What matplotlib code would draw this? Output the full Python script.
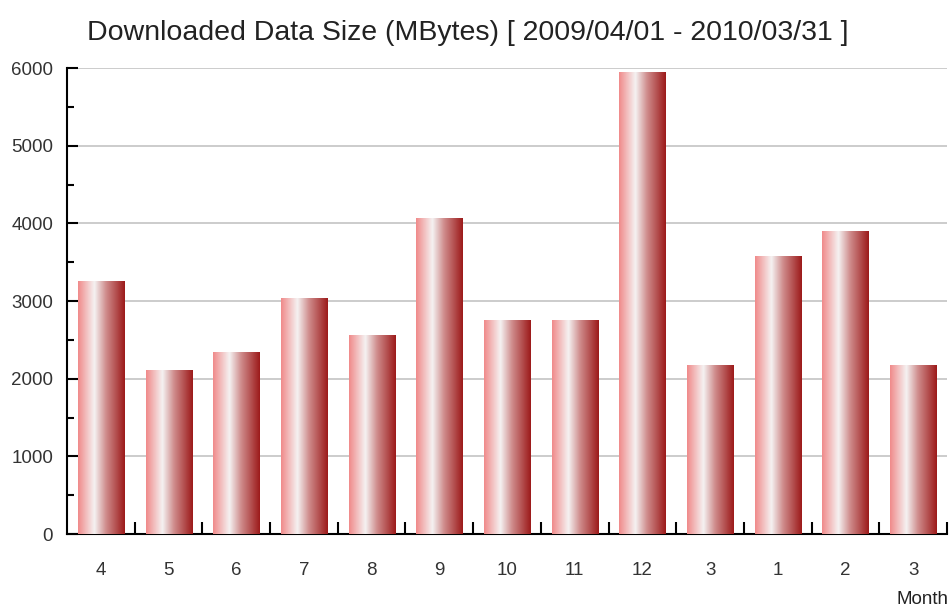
import matplotlib.pyplot as plt
import numpy as np
from matplotlib.colors import LinearSegmentedColormap
from matplotlib.ticker import MultipleLocator

months = ['4', '5', '6', '7', '8', '9', '10', '11', '12', '3', '1', '2', '3']
sizes = [3260, 2110, 2340, 3040, 2560, 4070, 2750, 2750, 5950, 2175, 3580, 3900, 2175]

plt.rcParams['font.family'] = ['Liberation Sans', 'DejaVu Sans']

# pink -> white -> dark red, like the old chart engine's cylinder bars
bar_cmap = LinearSegmentedColormap.from_list(
    'bars', [(0.0, '#f08a8a'), (0.35, '#f5f2f2'), (0.6, '#cf8c8c'), (1.0, '#9c1a1a')])
gradient = np.linspace(0, 1, 256).reshape(1, -1)

fig = plt.figure(figsize=(9.51, 6.15), dpi=100)
ax = fig.add_axes([0.0705, 0.1317, 0.9253, 0.7577])

x = np.arange(len(months))
bars = ax.bar(x, sizes, width=0.68, color='none', edgecolor='none', zorder=3)
for b in bars:
    x0, y0 = b.get_x(), b.get_y()
    img = ax.imshow(gradient, extent=[x0, x0 + b.get_width(), y0, y0 + b.get_height()],
                    aspect='auto', cmap=bar_cmap, zorder=3, interpolation='bilinear')
    img.set_clip_path(b)

ax.set_xlim(-0.5, len(months) - 0.5)
ax.set_ylim(0, 6000)

ax.yaxis.set_major_locator(MultipleLocator(1000))
ax.yaxis.set_minor_locator(MultipleLocator(500))
ax.yaxis.grid(True, color='#c8c8c8', linewidth=1.3, zorder=1)
ax.set_axisbelow(True)

ax.set_xticks(x)
ax.set_xticklabels(months)
ax.set_xticks(np.arange(0.5, len(months)), minor=True)
ax.tick_params(axis='x', which='major', length=0, pad=20, labelsize=13.5, labelcolor='#333333')
ax.tick_params(axis='x', which='minor', direction='in', length=9, width=1.5)
ax.tick_params(axis='y', which='major', direction='in', length=8, width=1.5, pad=10,
               labelsize=13.5, labelcolor='#333333')
ax.tick_params(axis='y', which='minor', direction='in', length=5, width=1.5)

for side in ['top', 'right']:
    ax.spines[side].set_visible(False)
for side in ['left', 'bottom']:
    ax.spines[side].set_linewidth(1.5)

fig.text(0.492, 0.946, 'Downloaded Data Size (MBytes) [ 2009/04/01 - 2010/03/31 ]',
         ha='center', va='center', fontsize=20.5, color='#222222')
fig.text(0.997, 0.025, 'Month', ha='right', va='center', fontsize=13.5, color='#222222')

fig.savefig('out.png', dpi=100)
